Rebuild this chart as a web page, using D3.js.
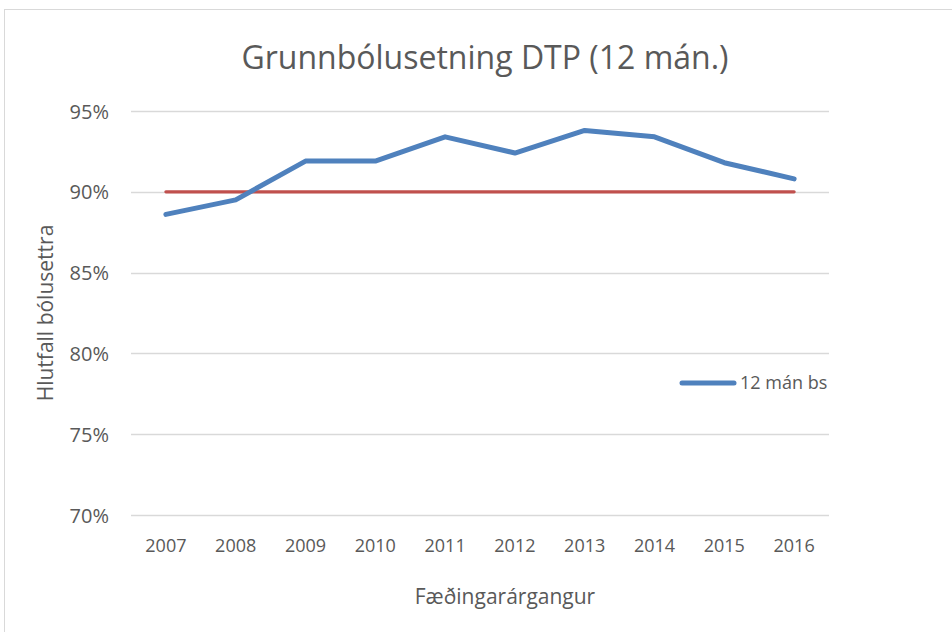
<!DOCTYPE html>
<html>
<head>
<meta charset="utf-8">
<script src="https://cdn.jsdelivr.net/npm/d3@7"></script>
<style>
  body { margin: 0; background: #fff; }
  text { font-family: "Open Sans", "Noto Sans", sans-serif; fill: #595959; }
</style>
</head>
<body>
<div id="chart"></div>
<script>
// Chart data
var years = ["2007", "2008", "2009", "2010", "2011", "2012", "2013", "2014", "2015", "2016"];
var coverage = [88.6, 89.5, 91.9, 91.9, 93.4, 92.4, 93.8, 93.4, 91.8, 90.8];
var target = [90, 90, 90, 90, 90, 90, 90, 90, 90, 90];
var yTicks = [70, 75, 80, 85, 90, 95];

var W = 952, H = 632;
var margin = { top: 111, right: 123, bottom: 117, left: 131 },
    width = W - margin.left - margin.right,
    height = H - margin.top - margin.bottom;

var svg = d3.select("#chart").append("svg")
    .attr("width", W)
    .attr("height", H);

// outer chart border
svg.append("rect")
    .attr("x", 4.5).attr("y", 9.5)
    .attr("width", W + 10).attr("height", H + 10)
    .attr("fill", "none")
    .attr("stroke", "#d9d9d9");

var g = svg.append("g")
    .attr("transform", "translate(" + margin.left + "," + margin.top + ")");

var x = d3.scaleBand().domain(years).range([0, width]);
var y = d3.scaleLinear().domain([70, 95]).range([height, 0]);

// gridlines
g.selectAll(".grid").data(yTicks).enter().append("line")
    .attr("x1", 0).attr("x2", width)
    .attr("y1", d => Math.round(y(d)) + 0.5)
    .attr("y2", d => Math.round(y(d)) + 0.5)
    .attr("stroke", "#d9d9d9")
    .attr("stroke-width", 1.3);

// y axis labels
var yAxis = d3.axisLeft(y).tickValues(yTicks).tickFormat(d => d + "%").tickSize(0).tickPadding(22);
g.append("g").call(yAxis)
    .call(a => a.select(".domain").remove())
    .selectAll("text")
    .style("font-size", "20px")
    .attr("fill", "#595959")
    .attr("dy", "0.35em");

// x axis labels
var xAxis = d3.axisBottom(x).tickSize(0).tickPadding(24);
g.append("g")
    .attr("transform", "translate(0," + height + ")")
    .call(xAxis)
    .call(a => a.select(".domain").remove())
    .selectAll("text")
    .style("font-size", "18px")
    .attr("fill", "#595959");

var line = d3.line()
    .x((d, i) => x(years[i]) + x.bandwidth() / 2)
    .y(d => y(d));

// target line
g.append("path")
    .datum(target)
    .attr("d", line)
    .attr("fill", "none")
    .attr("stroke", "#c0504d")
    .attr("stroke-width", 3.2)
    .attr("stroke-linecap", "round");

// coverage line
g.append("path")
    .datum(coverage)
    .attr("d", line)
    .attr("fill", "none")
    .attr("stroke", "#4f81bd")
    .attr("stroke-width", 5)
    .attr("stroke-linejoin", "round")
    .attr("stroke-linecap", "round");

// title
svg.append("text")
    .attr("x", 485).attr("y", 69)
    .attr("text-anchor", "middle")
    .style("font-size", "32px")
    .text("Grunnbólusetning DTP (12 mán.)");

// axis titles
svg.append("text")
    .attr("transform", "translate(53," + (margin.top + height / 2) + ") rotate(-90)")
    .attr("text-anchor", "middle")
    .style("font-size", "21px")
    .text("Hlutfall bólusettra");

svg.append("text")
    .attr("x", 505).attr("y", 604)
    .attr("text-anchor", "middle")
    .style("font-size", "21px")
    .text("Fæðingarárgangur");

// legend
var lg = svg.append("g").attr("transform", "translate(682,383)");
lg.append("line")
    .attr("x1", 0).attr("x2", 52)
    .attr("y1", 0).attr("y2", 0)
    .attr("stroke", "#4f81bd")
    .attr("stroke-width", 5)
    .attr("stroke-linecap", "round");
lg.append("text")
    .attr("x", 58).attr("y", 0)
    .attr("dy", "0.35em")
    .style("font-size", "18px")
    .text("12 mán bs");
</script>
</body>
</html>
